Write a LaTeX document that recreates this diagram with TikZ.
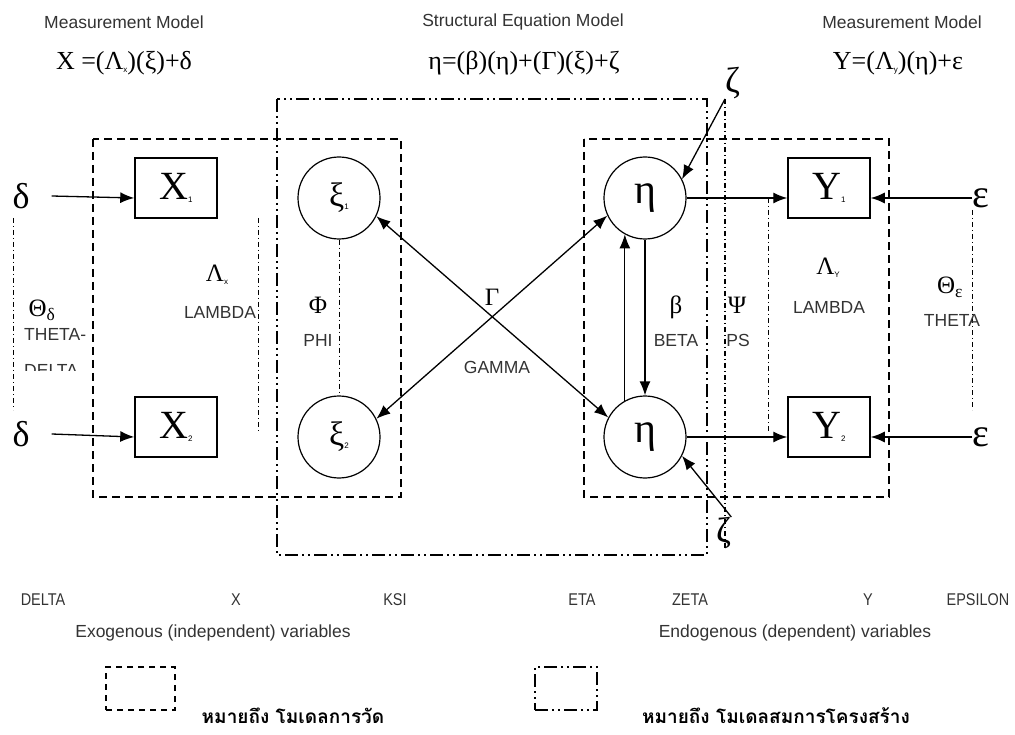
\documentclass[tikz,border=0pt]{standalone}
\usepackage{fontspec}
\usepackage{graphicx}
\setmainfont{Liberation Serif}
\setsansfont{Liberation Sans}
\newfontfamily\thaifont[Script=Thai]{Loma}
\usetikzlibrary{arrows.meta}
\tikzset{
  sanslbl/.style={font=\sffamily\fontsize{17.5}{20}\selectfont, text=black!80, inner sep=0},
  grk/.style={font=\fontsize{25}{28}\selectfont, inner sep=0},
  eqn/.style={font=\fontsize{26}{30}\selectfont, inner sep=0},
  varbox/.style={draw, line width=1.5pt, minimum width=82pt, minimum height=60pt, inner sep=0, font=\fontsize{40}{42}\selectfont},
  latent/.style={draw, circle, line width=1.2pt, minimum size=82pt, inner sep=0, font=\fontsize{34}{36}\selectfont},
  errsym/.style={inner sep=0, font=\fontsize{36}{38}\selectfont},
  measbox/.style={line width=2pt, dash pattern=on 8pt off 5pt},
  structbox/.style={line width=2pt, dash pattern=on 13pt off 4pt on 2pt off 4pt on 2pt off 4pt},
  rel/.style={line width=0.9pt, dash pattern=on 5pt off 3pt on 1pt off 3pt},
  arr/.style={line width=1.3pt, -{Latex[length=14pt,width=11pt]}},
  darr/.style={line width=1.3pt, {Latex[length=14pt,width=11pt]}-{Latex[length=14pt,width=11pt]}},
  botlbl/.style={font=\sffamily\fontsize{17}{20}\selectfont, text=black!80, inner sep=0},
  thailbl/.style={font=\thaifont\bfseries\fontsize{19}{22}\selectfont, inner sep=0},
}
\newcommand{\tsub}[1]{\raisebox{-3pt}{\sffamily\fontsize{8}{8}\selectfont #1}}
\newcommand{\narrow}[1]{\scalebox{0.85}[1]{#1}}
\begin{document}
\begin{tikzpicture}[x=1pt,y=-1pt]
\useasboundingbox (0,0) rectangle (1015,735);

% headers
\node[sanslbl] (hm1) at (124,22) {Measurement Model};
\node[eqn] (he1) at (124,63) {X =(Λ\tsub{x})(ξ)+δ};
\node[sanslbl] (hs) at (523,22) {Structural Equation Model};
\node[eqn] (hse) at (524,63) {η=(β)(η)+(Γ)(ξ)+ζ};
\node[sanslbl] (hm2) at (902,22) {Measurement Model};
\node[eqn] (he2) at (898,63) {Y=(Λ\tsub{y})(η)+ε};

% model boxes
\draw[structbox] (277,99) rectangle (707,555);
\draw[measbox] (93,139) rectangle (401,497);
\draw[measbox] (584,139) rectangle (889,497);

% variables
\node[varbox] (X1) at (176,188) {X\tsub{1}};
\node[varbox] (X2) at (176,427) {X\tsub{2}};
\node[latent] (xi1) at (339,198) {ξ\tsub{1}};
\node[latent] (xi2) at (339,437) {ξ\tsub{2}};
\node[latent, font=\fontsize{42}{44}\selectfont] (eta1) at (645,198) {η};
\node[latent, font=\fontsize{42}{44}\selectfont] (eta2) at (645,437) {η};
\node[varbox] (Y1) at (829,188) {Y\tsub{1}};
\node[varbox] (Y2) at (829,427) {Y\tsub{2}};

% error terms
\node[errsym] (d1) at (21,196) {δ};
\node[errsym] (d2) at (21,434) {δ};
\node[errsym, font=\fontsize{40}{42}\selectfont] (e1) at (981,198) {ε};
\node[errsym, font=\fontsize{40}{42}\selectfont] (e2) at (981,437) {ε};
\node[inner sep=0, anchor=south west, font=\fontsize{36}{38}\selectfont] (z1) at (725,99) {ζ};
\node[inner sep=0, anchor=north west, font=\fontsize{36}{38}\selectfont] (z2) at (716,517) {ζ};

% arrows
\draw[arr] ([xshift=22pt]d1.east) -- ([yshift=-10pt]X1.west);
\draw[arr] ([xshift=22pt]d2.east) -- ([yshift=-10pt]X2.west);
\draw[arr] (eta1.east) -- ([yshift=-10pt]Y1.west);
\draw[arr] (eta2.east) -- ([yshift=-10pt]Y2.west);
\draw[arr] (e1.west) -- ([yshift=-10pt]Y1.east);
\draw[arr] (e2.west) -- ([yshift=-10pt]Y2.east);
\draw[darr] (xi1.-26) -- (eta2.152);
\draw[darr] (xi2.26) -- (eta1.205);
\draw[arr] (eta1.south) -- (eta2.north);
\draw[arr] (eta2.119) -- (eta1.-119);
\draw[arr] (z1.south west) -- (eta1.27);
\draw[arr] (z2.north east) -- (eta2.-27);

% relation (covariance / loading) lines
\coordinate (td1) at (13,218);
\coordinate (td2) at (13,410);
\coordinate (lx1) at (258,218);
\coordinate (lx2) at (258,432);
\coordinate (ly1) at (768,198);
\coordinate (ly2) at (768,433);
\coordinate (te1) at (972,210);
\coordinate (te2) at (972,410);
\draw[rel] (td1) -- (td2);
\draw[rel] (lx1) -- (lx2);
\draw[rel] (xi1.south) -- (xi2.north);
\draw[rel, line width=1.2pt] (z1.south west) -- (z1.south west |- z2.south);
\draw[rel] (ly1) -- (ly2);
\draw[rel] (te1) -- (te2);

% labels
\node[grk] (lThd) at (42,310) {Θ\textsubscript{δ}};
\node[sanslbl, anchor=west] (lThdt) at (24,334) {THETA-};
\begin{scope}
\clip (20,355) rectangle (100,370.5);
\node[sanslbl, anchor=west] (lThdt2) at (24,370) {DELTA};
\end{scope}
\node[grk] (lLx) at (217,275) {Λ\tsub{x}};
\node[sanslbl] (lLxt) at (220,312) {LAMBDA};
\node[grk] (lPhi) at (318,305) {Φ};
\node[sanslbl] (lPhit) at (318,340) {PHI};
\node[grk] (lGam) at (492,297) {Γ};
\node[sanslbl] (lGamt) at (497,367) {GAMMA};
\node[grk] (lBeta) at (676,307) {β};
\node[sanslbl] (lBetat) at (676,340) {BETA};
\node[grk] (lPsi) at (737,305) {Ψ};
\node[sanslbl] (lPsit) at (738,340) {PS};
\node[grk] (lLy) at (828,268) {Λ\tsub{Y}};
\node[sanslbl] (lLyt) at (829,307) {LAMBDA};
\node[grk] (lThe) at (950,287) {Θ\textsubscript{ε}};
\node[sanslbl] (lThet) at (952,320) {THETA};

% bottom names
\node[botlbl] (bDelta) at (43,600) {\narrow{DELTA}};
\node[botlbl] (bX) at (236,600) {\narrow{X}};
\node[botlbl] (bKsi) at (395,600) {\narrow{KSI}};
\node[botlbl] (bEta) at (582,600) {\narrow{ETA}};
\node[botlbl] (bZeta) at (690,600) {\narrow{ZETA}};
\node[botlbl] (bY) at (868,600) {\narrow{Y}};
\node[botlbl] (bEps) at (978,600) {\narrow{EPSILON}};

% legend
\node[sanslbl] (exo) at (213,633) {Exogenous (independent) variables};
\node[sanslbl] (endo) at (795,633) {Endogenous (dependent) variables};
\node[draw, measbox, line width=1.3pt, dash pattern=on 6pt off 5pt, minimum width=69pt, minimum height=43pt, inner sep=0] (lg1) at (140.5,688.5) {};
\node[draw, structbox, line width=1.3pt, minimum width=62pt, minimum height=43pt, inner sep=0] (lg2) at (566,688.5) {};
\node[thailbl] (th1) at (293,716) {หมายถึง โมเดลการวัด};
\node[thailbl] (th2) at (776,716) {หมายถึง โมเดลสมการโครงสร้าง};
\end{tikzpicture}
\end{document}
